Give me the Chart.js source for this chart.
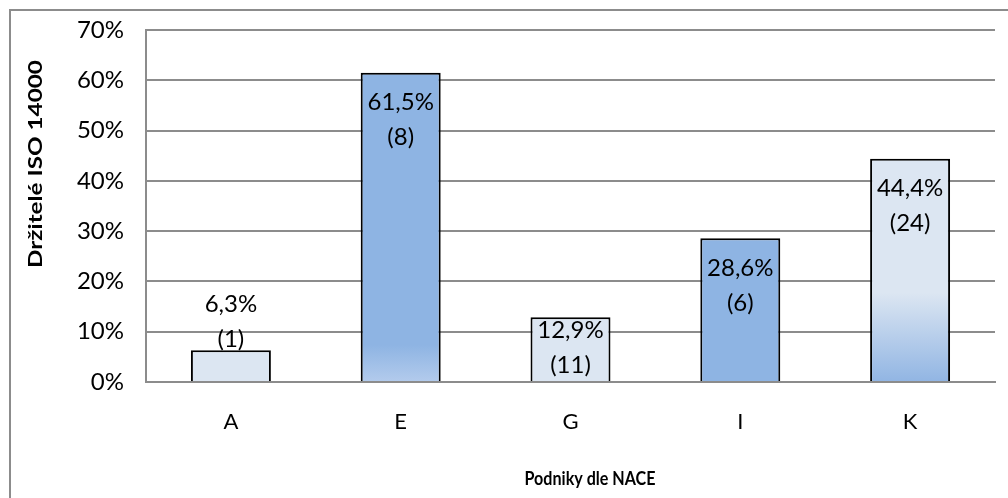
<!DOCTYPE html>
<html>
<head>
<meta charset="utf-8">
<script src="https://cdn.jsdelivr.net/npm/chart.js@4/dist/chart.umd.min.js"></script>
<style>
  html, body { margin: 0; padding: 0; background: #ffffff; }
  #wrap { width: 1008px; height: 498px; position: relative; }
</style>
</head>
<body>
<div id="wrap"><canvas id="c" width="1008" height="498"></canvas></div>
<script>
// ---- data ----
const categories = ['A', 'E', 'G', 'I', 'K'];
const shareValues = [6.3, 61.5, 12.9, 28.6, 44.4];   // % of firms holding ISO 14000
const holderCounts = [1, 8, 11, 6, 24];               // number of holders
const yTicks = [0, 10, 20, 30, 40, 50, 60, 70];
const yTitle = 'Držitelé ISO 14000';
const xTitle = 'Podniky dle NACE';

// ---- styles ----
const LIGHT = '#dce6f2';
const BLUE = '#8eb4e3';
const barFills = [
  [[0, LIGHT], [1, LIGHT]],
  [[0, BLUE], [0.88, BLUE], [1, '#b3cbec']],
  [[0, LIGHT], [1, LIGHT]],
  [[0, BLUE], [1, BLUE]],
  [[0, LIGHT], [0.6, LIGHT], [1, '#91b5e3']]
];
const FONT = 'Lato, "Open Sans", sans-serif';

function fmt(v) { return String(v).replace('.', ','); }

// draw a bold title fitted to a target length and cap height
function drawFitted(ctx, text, cx, cy, angle, targetLen, capH) {
  ctx.save();
  ctx.font = 'bold 20px ' + FONT;
  const w = ctx.measureText(text).width;
  const size = 20 * targetLen / w;
  const sy = capH / (0.72 * size);
  ctx.translate(cx, cy);
  ctx.rotate(angle);
  ctx.scale(1, sy);
  ctx.font = 'bold ' + size.toFixed(2) + 'px ' + FONT;
  ctx.textAlign = 'center';
  ctx.textBaseline = 'middle';
  ctx.fillText(text, 0, 0);
  ctx.restore();
}

const decor = {
  id: 'decor',
  beforeDraw(chart) {
    const ctx = chart.ctx;
    ctx.save();
    ctx.strokeStyle = '#8c8c8c';
    ctx.lineWidth = 2;
    ctx.strokeRect(10, 10, 1200, 800);
    ctx.restore();
  },
  afterDraw(chart) {
    const ctx = chart.ctx;
    const y = chart.scales.y;
    const base = y.getPixelForValue(0);
    const meta = chart.getDatasetMeta(0);
    ctx.save();
    ctx.fillStyle = '#000';
    ctx.font = '24px ' + FONT;
    ctx.textAlign = 'center';
    ctx.textBaseline = 'middle';
    meta.data.forEach((bar, i) => {
      const top = bar.y;
      const h = base - top;
      let y1;
      if (h < 40) {
        y1 = top - 46;
      } else if (h < 82) {
        y1 = base - 52;
      } else {
        y1 = top + 30;
      }
      ctx.fillText(fmt(shareValues[i]) + '%', bar.x, y1);
      ctx.fillText('(' + holderCounts[i] + ')', bar.x, y1 + 35);
    });
    // axis titles
    drawFitted(ctx, xTitle, 590, 479, 0, 131, 14);
    drawFitted(ctx, yTitle, 36, 164, -Math.PI / 2, 208, 14);
    ctx.restore();
  }
};

new Chart(document.getElementById('c'), {
  type: 'bar',
  data: {
    labels: categories,
    datasets: [{
      data: shareValues,
      backgroundColor(ctx) {
        const chart = ctx.chart;
        if (!chart.chartArea) return LIGHT;
        const i = ctx.dataIndex;
        const y = chart.scales.y;
        const top = y.getPixelForValue(shareValues[i]);
        const base = y.getPixelForValue(0);
        const g = chart.ctx.createLinearGradient(0, top, 0, base);
        barFills[i].forEach(s => g.addColorStop(s[0], s[1]));
        return g;
      },
      borderColor: '#000000',
      borderWidth: 2,
      borderSkipped: 'bottom',
      categoryPercentage: 1,
      barPercentage: 0.471
    }]
  },
  options: {
    responsive: false,
    animation: false,
    devicePixelRatio: 1,
    layout: { padding: { top: 30, right: 13, left: 0, bottom: 0 } },
    plugins: { legend: { display: false }, tooltip: { enabled: false } },
    scales: {
      x: {
        grid: { display: false, drawTicks: false },
        border: { display: true, color: '#8c8c8c', width: 2 },
        ticks: { color: '#000', font: { family: FONT, size: 22 }, padding: 27, maxRotation: 0 },
        afterFit(s) { s.height = 116; s.paddingLeft = 0; s.paddingRight = 0; }
      },
      y: {
        min: 0, max: 70,
        afterBuildTicks(s) { s.ticks = yTicks.map(v => ({ value: v })); },
        grid: { color: '#8c8c8c', lineWidth: 2, drawTicks: false },
        border: { display: true, color: '#8c8c8c', width: 2 },
        ticks: { color: '#000', font: { family: FONT, size: 24 }, padding: 22, callback: v => v + '%' },
        afterFit(s) { s.width = 146; s.paddingTop = 0; s.paddingBottom = 0; }
      }
    }
  },
  plugins: [decor]
});
</script>
</body>
</html>
